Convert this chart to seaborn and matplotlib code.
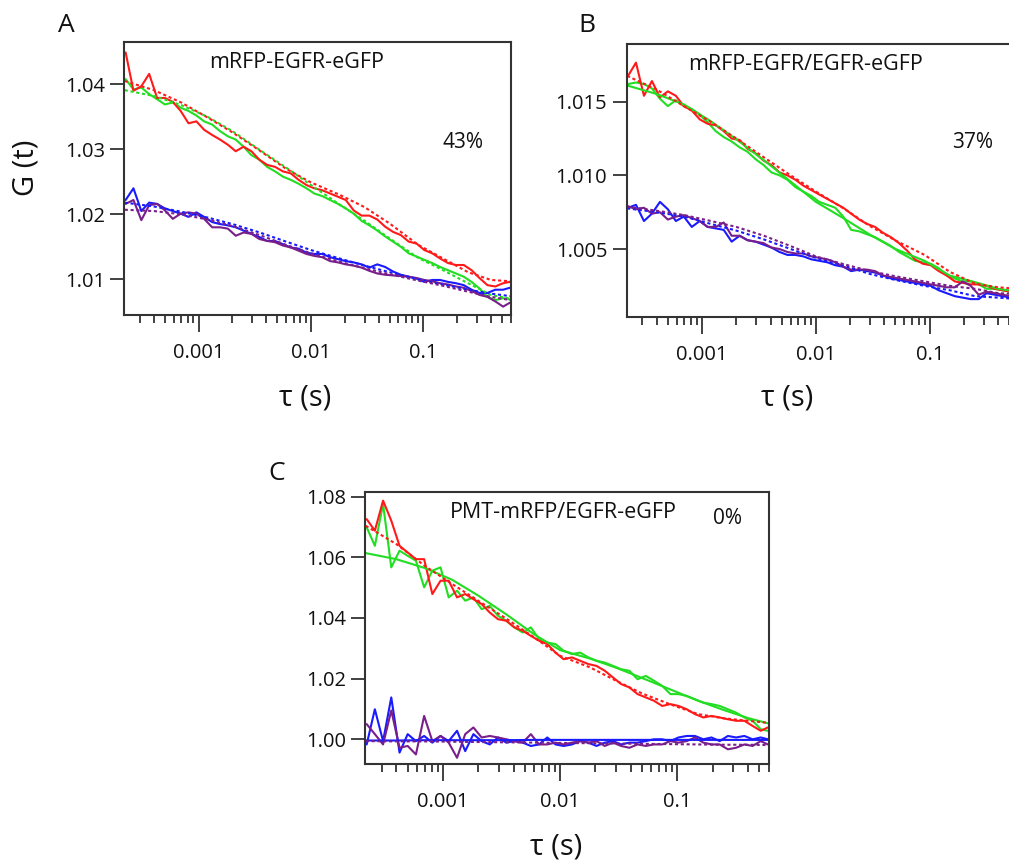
import matplotlib
matplotlib.use("Agg")
import matplotlib.pyplot as plt
import matplotlib.ticker as mticker
import seaborn as sns

# ---------------- data ----------------
tau = [2.24e-4, 2.63e-4, 3.09e-4, 3.63e-4, 4.27e-4, 5.01e-4, 5.89e-4, 6.92e-4, 8.13e-4, 9.55e-4,
       1.12e-3, 1.32e-3, 1.55e-3, 1.82e-3, 2.14e-3, 2.51e-3, 2.95e-3, 3.47e-3, 4.07e-3, 4.79e-3,
       5.62e-3, 6.61e-3, 7.76e-3, 9.12e-3, 1.07e-2, 1.26e-2, 1.48e-2, 1.74e-2, 2.04e-2, 2.40e-2,
       2.82e-2, 3.31e-2, 3.89e-2, 4.57e-2, 5.37e-2, 6.31e-2, 7.41e-2, 8.71e-2, 0.102, 0.120,
       0.141, 0.166, 0.195, 0.229, 0.269, 0.316, 0.372, 0.437, 0.513, 0.589]
tau_fit = [2.2e-4, 4e-4, 7e-4, 1.2e-3, 2e-3, 3.5e-3, 6e-3, 1e-2, 1.8e-2, 3e-2,
           5e-2, 9e-2, 0.15, 0.25, 0.4, 0.6]

# Panel A: mRFP-EGFR-eGFP
red_A = [1.0449, 1.0390, 1.0397, 1.0416, 1.0379, 1.0379, 1.0373, 1.0359, 1.0340, 1.0343,
         1.0330, 1.0322, 1.0315, 1.0307, 1.0297, 1.0304, 1.0297, 1.0284, 1.0276, 1.0273,
         1.0266, 1.0263, 1.0253, 1.0245, 1.0240, 1.0237, 1.0232, 1.0227, 1.0222, 1.0206,
         1.0198, 1.0198, 1.0192, 1.0181, 1.0173, 1.0168, 1.0158, 1.0155, 1.0145, 1.0140,
         1.0132, 1.0125, 1.0122, 1.0122, 1.0114, 1.0102, 1.0091, 1.0089, 1.0094, 1.0096]
green_A = [1.0408, 1.0392, 1.0395, 1.0385, 1.0377, 1.0369, 1.0372, 1.0364, 1.0359, 1.0352,
           1.0343, 1.0338, 1.0328, 1.0320, 1.0315, 1.0304, 1.0291, 1.0284, 1.0273, 1.0266,
           1.0258, 1.0253, 1.0247, 1.0240, 1.0232, 1.0228, 1.0222, 1.0216, 1.0209, 1.0201,
           1.0190, 1.0183, 1.0175, 1.0166, 1.0158, 1.0150, 1.0140, 1.0135, 1.0130, 1.0125,
           1.0119, 1.0114, 1.0109, 1.0104, 1.0096, 1.0086, 1.0073, 1.0068, 1.0071, 1.0069]
blue_A = [1.0222, 1.0240, 1.0205, 1.0218, 1.0216, 1.0209, 1.0205, 1.0201, 1.0196, 1.0203,
          1.0196, 1.0188, 1.0185, 1.0183, 1.0180, 1.0175, 1.0170, 1.0165, 1.0159, 1.0159,
          1.0154, 1.0149, 1.0147, 1.0141, 1.0139, 1.0139, 1.0134, 1.0131, 1.0128, 1.0126,
          1.0123, 1.0118, 1.0123, 1.0119, 1.0112, 1.0107, 1.0104, 1.0101, 1.0096, 1.0099,
          1.0099, 1.0096, 1.0094, 1.0091, 1.0084, 1.0079, 1.0079, 1.0084, 1.0084, 1.0087]
purple_A = [1.0216, 1.0222, 1.0191, 1.0214, 1.0216, 1.0206, 1.0193, 1.0201, 1.0203, 1.0201,
            1.0193, 1.0180, 1.0180, 1.0178, 1.0167, 1.0172, 1.0170, 1.0162, 1.0159, 1.0157,
            1.0152, 1.0149, 1.0144, 1.0139, 1.0136, 1.0134, 1.0128, 1.0126, 1.0123, 1.0121,
            1.0118, 1.0113, 1.0109, 1.0107, 1.0106, 1.0105, 1.0104, 1.0102, 1.0099, 1.0097,
            1.0094, 1.0092, 1.0089, 1.0087, 1.0082, 1.0076, 1.0073, 1.0066, 1.0058, 1.0064]
red_fit_A = [1.0405, 1.0391, 1.0372, 1.0349, 1.0326, 1.0298, 1.0270, 1.0249, 1.0230, 1.0211,
             1.0186, 1.0153, 1.0132, 1.0111, 1.0099, 1.0097]
green_fit_A = [1.0391, 1.0382, 1.0368, 1.0350, 1.0328, 1.0299, 1.0272, 1.0245, 1.0215, 1.0190,
               1.0163, 1.0133, 1.0114, 1.0094, 1.0076, 1.0070]
blue_fit_A = [1.0218, 1.0212, 1.0204, 1.0195, 1.0185, 1.0172, 1.0158, 1.0145, 1.0132, 1.0121,
              1.0111, 1.0100, 1.0092, 1.0084, 1.0078, 1.0074]
purple_fit_A = [1.0207, 1.0205, 1.0200, 1.0192, 1.0182, 1.0168, 1.0153, 1.0140, 1.0127, 1.0117,
                1.0108, 1.0098, 1.0090, 1.0081, 1.0073, 1.0068]

# Panel B: mRFP-EGFR/EGFR-eGFP
red_B = [1.01675, 1.01765, 1.0154, 1.0164, 1.0153, 1.0157, 1.0154, 1.0147, 1.0144, 1.0138,
         1.0135, 1.0134, 1.0130, 1.0125, 1.0124, 1.0118, 1.0115, 1.0110, 1.0107, 1.0102,
         1.0100, 1.0097, 1.0093, 1.0090, 1.0087, 1.0084, 1.0081, 1.0078, 1.0074, 1.0070,
         1.0067, 1.0065, 1.0061, 1.0058, 1.0054, 1.0049, 1.0043, 1.0040, 1.0039, 1.0035,
         1.0032, 1.0028, 1.0027, 1.0026, 1.0026, 1.0025, 1.0023, 1.0022, 1.0021, 1.0021]
green_B = [1.0162, 1.0163, 1.0162, 1.0159, 1.0152, 1.0147, 1.0151, 1.0147, 1.0145, 1.0141,
           1.0136, 1.0130, 1.0126, 1.0123, 1.0119, 1.0116, 1.0111, 1.0107, 1.0102, 1.0100,
           1.0097, 1.0092, 1.0089, 1.0086, 1.0082, 1.0080, 1.0078, 1.0072, 1.0063, 1.0062,
           1.0060, 1.0058, 1.0055, 1.0052, 1.0048, 1.0045, 1.0042, 1.0041, 1.0040, 1.0037,
           1.0032, 1.0030, 1.0028, 1.0028, 1.0026, 1.0023, 1.0023, 1.0022, 1.0021, 1.0021]
blue_B = [1.0078, 1.0080, 1.0069, 1.0074, 1.0082, 1.0077, 1.0069, 1.0072, 1.0065, 1.0069,
          1.0065, 1.0064, 1.0063, 1.0055, 1.0059, 1.0056, 1.0055, 1.0053, 1.0051, 1.0048,
          1.0046, 1.0046, 1.0045, 1.0043, 1.0042, 1.0041, 1.0039, 1.0038, 1.0035, 1.0036,
          1.0035, 1.0034, 1.0032, 1.0030, 1.0029, 1.0028, 1.0027, 1.0026, 1.0025, 1.0022,
          1.0020, 1.0018, 1.0017, 1.0016, 1.0016, 1.0020, 1.0019, 1.0018, 1.0017, 1.0017]
purple_B = [1.0079, 1.0077, 1.0078, 1.0074, 1.0075, 1.0070, 1.0072, 1.0073, 1.0071, 1.0069,
            1.0065, 1.0065, 1.0068, 1.0059, 1.0059, 1.0056, 1.0055, 1.0054, 1.0051, 1.0050,
            1.0048, 1.0047, 1.0047, 1.0045, 1.0044, 1.0043, 1.0041, 1.0038, 1.0036, 1.0036,
            1.0036, 1.0035, 1.0032, 1.0031, 1.0030, 1.0029, 1.0028, 1.0027, 1.0026, 1.0025,
            1.0024, 1.0024, 1.0028, 1.0025, 1.0019, 1.0021, 1.0020, 1.0019, 1.0018, 1.0018]
red_fit_B = [1.01675, 1.01582, 1.01468, 1.01362, 1.01250, 1.01122, 1.01000, 1.00890, 1.00770,
             1.00655, 1.00558, 1.00460, 1.00345, 1.00265, 1.00240, 1.00230]
green_fit_B = [1.01610, 1.01552, 1.01480, 1.01366, 1.01245, 1.01102, 1.00958, 1.00820, 1.00703,
               1.00596, 1.00500, 1.00420, 1.00320, 1.00275, 1.00230, 1.00210]
blue_fit_B = [1.00776, 1.00750, 1.00720, 1.00670, 1.00625, 1.00565, 1.00500, 1.00440, 1.00385,
              1.00330, 1.00290, 1.00250, 1.00220, 1.00180, 1.00170, 1.00160]
purple_fit_B = [1.00788, 1.00760, 1.00730, 1.00690, 1.00650, 1.00590, 1.00520, 1.00450, 1.00395,
                1.00350, 1.00315, 1.00280, 1.00250, 1.00230, 1.00200, 1.00195]

# Panel C: PMT-mRFP/EGFR-eGFP
red_C = [1.0726, 1.0688, 1.0787, 1.0721, 1.0638, 1.0616, 1.0594, 1.0594, 1.0479, 1.0523,
         1.0523, 1.0468, 1.0479, 1.0462, 1.0446, 1.0418, 1.0396, 1.0391, 1.0369, 1.0358,
         1.0341, 1.0325, 1.0314, 1.0286, 1.0264, 1.0270, 1.0259, 1.0248, 1.0242, 1.0226,
         1.0204, 1.0182, 1.0171, 1.0149, 1.0138, 1.0127, 1.0110, 1.0116, 1.0110, 1.0099,
         1.0083, 1.0072, 1.0077, 1.0072, 1.0066, 1.0061, 1.0061, 1.0044, 1.0028, 1.0039]
green_C = [1.0699, 1.0638, 1.0776, 1.0567, 1.0622, 1.0605, 1.0589, 1.0501, 1.0556, 1.0567,
           1.0468, 1.0490, 1.0457, 1.0468, 1.0429, 1.0440, 1.0407, 1.0391, 1.0369, 1.0352,
           1.0369, 1.0330, 1.0319, 1.0314, 1.0292, 1.0281, 1.0286, 1.0270, 1.0259, 1.0253,
           1.0242, 1.0231, 1.0226, 1.0198, 1.0209, 1.0193, 1.0176, 1.0149, 1.0149, 1.0143,
           1.0132, 1.0121, 1.0116, 1.0110, 1.0099, 1.0088, 1.0072, 1.0061, 1.0033, 1.0028]
blue_C = [0.9983, 1.0099, 0.9994, 1.0138, 0.9956, 1.0017, 0.9994, 1.0011, 0.9989, 1.0011,
          0.9994, 1.0028, 0.9961, 1.0017, 0.9994, 0.9983, 1.0006, 0.9989, 0.9994, 0.9989,
          0.9978, 0.9983, 1.0006, 0.9983, 0.9978, 0.9983, 0.9994, 0.9989, 0.9978, 0.9989,
          0.9994, 0.9983, 0.9989, 0.9989, 0.9994, 1.0000, 1.0000, 0.9994, 1.0006, 1.0011,
          1.0011, 1.0000, 1.0006, 0.9994, 1.0011, 1.0006, 1.0011, 1.0000, 1.0006, 1.0000]
purple_C = [1.0050, 1.0017, 0.9983, 1.0095, 0.9972, 0.9978, 0.9950, 1.0077, 0.9994, 1.0011,
            0.9989, 0.9939, 1.0017, 1.0039, 1.0006, 1.0011, 1.0006, 1.0000, 0.9994, 0.9989,
            1.0017, 0.9983, 0.9983, 0.9989, 0.9983, 0.9989, 0.9994, 0.9989, 0.9994, 0.9978,
            0.9989, 0.9978, 0.9972, 0.9983, 0.9978, 0.9983, 0.9983, 0.9994, 0.9989, 0.9994,
            1.0006, 0.9989, 0.9983, 0.9983, 0.9967, 0.9972, 0.9983, 0.9978, 0.9994, 0.9983]
red_fit_C = [1.0704, 1.0644, 1.0572, 1.0512, 1.0457, 1.0397, 1.0336, 1.0275, 1.0237, 1.0193,
             1.0151, 1.0113, 1.0083, 1.0069, 1.0061, 1.0054]
green_fit_C = [1.0614, 1.0594, 1.0565, 1.0526, 1.0474, 1.0411, 1.0346, 1.0294, 1.0266, 1.0236,
               1.0202, 1.0162, 1.0127, 1.0096, 1.0070, 1.0052]
blue_fit_C = [0.9996, 0.9996, 0.9997, 0.9997, 0.9997, 0.9997, 0.9998, 0.9998, 0.9998, 0.9998,
              0.9998, 0.9998, 0.9998, 0.9998, 0.9998, 0.9998]
purple_fit_C = [0.9994, 0.9993, 0.9993, 0.9992, 0.9991, 0.9990, 0.9989, 0.9988, 0.9987, 0.9986,
                0.9985, 0.9984, 0.9983, 0.9982, 0.9982, 0.9981]

panel_titles = ["mRFP-EGFR-eGFP", "mRFP-EGFR/EGFR-eGFP", "PMT-mRFP/EGFR-eGFP"]
panel_pct = ["43%", "37%", "0%"]
panel_letters = ["A", "B", "C"]
x_tick_vals = [1e-3, 1e-2, 1e-1]
x_tick_labels = ["0.001", "0.01", "0.1"]
y_ticks_A = [1.01, 1.02, 1.03, 1.04]
y_ticks_B = [1.005, 1.010, 1.015]
y_ticks_C = [1.00, 1.02, 1.04, 1.06, 1.08]

# ---------------- style ----------------
sns.set_theme(style="ticks")
plt.rcParams["font.family"] = ["Open Sans", "DejaVu Sans"]

RED, GREEN, BLUE, PURPLE = "#ff1a1a", "#22dd22", "#1a1aff", "#7a1f8a"
DOT = (0, (1.5, 1.3))
INK = "#111111"
LW = 1.5

W, H = 1009, 860
fig = plt.figure(figsize=(W / 100, H / 100), dpi=100)


def box(left, top, right, bottom):
    return [left / W, 1 - bottom / H, (right - left) / W, (bottom - top) / H]


def ftext(x, y, s, **kw):
    fig.text(x / W, 1 - y / H, s, ha="center", va="center", color=INK, **kw)


def setup(ax, ylim, yticks, yfmt):
    ax.set_xscale("log")
    ax.set_xlim(2.18e-4, 0.603)
    ax.set_ylim(*ylim)
    ax.xaxis.set_major_locator(mticker.FixedLocator(x_tick_vals))
    ax.xaxis.set_major_formatter(mticker.FixedFormatter(x_tick_labels))
    ax.xaxis.set_minor_locator(mticker.LogLocator(base=10, subs=[2, 3, 4, 5, 6, 7, 8, 9]))
    ax.xaxis.set_minor_formatter(mticker.NullFormatter())
    ax.set_yticks(yticks)
    ax.set_yticklabels([yfmt.format(v) for v in yticks])
    ax.tick_params(axis="x", which="major", direction="out", length=12, width=1.3,
                   color="#333333", labelsize=14.5, labelcolor=INK, pad=8)
    ax.tick_params(axis="x", which="minor", direction="out", length=6, width=1.3,
                   color="#333333")
    ax.tick_params(axis="y", which="major", direction="out", length=10, width=1.3,
                   color="#333333", labelsize=14.5, labelcolor=INK, pad=4)
    ax.tick_params(axis="y", which="minor", length=0)
    for sp in ax.spines.values():
        sp.set_visible(True)
        sp.set_color("#333333")
        sp.set_linewidth(1.5)
    ax.set_xlabel("")
    ax.set_ylabel("")


def line(ax, x, y, color, ls="-", lw=LW):
    sns.lineplot(x=x, y=y, ax=ax, color=color, linestyle=ls, linewidth=lw,
                 estimator=None, sort=False, legend=False)


# ---------------- Panel A ----------------
axA = fig.add_axes(box(124.3, 42.3, 511, 315))
setup(axA, (1.00451, 1.04646), y_ticks_A, "{:.2f}")
line(axA, tau, green_A, GREEN)
line(axA, tau, red_A, RED)
line(axA, tau, blue_A, BLUE)
line(axA, tau, purple_A, PURPLE)
line(axA, tau_fit, green_fit_A, GREEN, DOT)
line(axA, tau_fit, red_fit_A, RED, DOT)
line(axA, tau_fit, blue_fit_A, BLUE, DOT)
line(axA, tau_fit, purple_fit_A, PURPLE, DOT)
setup(axA, (1.00451, 1.04646), y_ticks_A, "{:.2f}")

# ---------------- Panel B ----------------
axB = fig.add_axes(box(626.7, 44, 1018.6, 317.3))
setup(axB, (1.000366, 1.018915), y_ticks_B, "{:.3f}")
line(axB, tau, green_B, GREEN)
line(axB, tau, red_B, RED)
line(axB, tau, blue_B, BLUE)
line(axB, tau, purple_B, PURPLE)
line(axB, tau_fit, green_fit_B, GREEN, "-")
line(axB, tau_fit, red_fit_B, RED, DOT)
line(axB, tau_fit, blue_fit_B, BLUE, DOT)
line(axB, tau_fit, purple_fit_B, PURPLE, DOT)
setup(axB, (1.000366, 1.018915), y_ticks_B, "{:.3f}")

# ---------------- Panel C ----------------
axC = fig.add_axes(box(365.3, 491.7, 769, 764))
setup(axC, (0.99185, 1.08165), y_ticks_C, "{:.2f}")
line(axC, tau, green_C, GREEN)
line(axC, tau, red_C, RED)
line(axC, tau, blue_C, BLUE)
line(axC, tau, purple_C, PURPLE)
line(axC, tau_fit, green_fit_C, GREEN, "-")
line(axC, tau_fit, red_fit_C, RED, DOT)
line(axC, tau_fit, blue_fit_C, BLUE, "-")
line(axC, tau_fit, purple_fit_C, PURPLE, DOT)
setup(axC, (0.99185, 1.08165), y_ticks_C, "{:.2f}")

# ---------------- texts ----------------
ftext(66, 25, panel_letters[0], fontsize=19)
ftext(587, 25, panel_letters[1], fontsize=19)
ftext(277, 473, panel_letters[2], fontsize=19)

ftext(297, 63, panel_titles[0], fontsize=15.5)
ftext(806, 64, panel_titles[1], fontsize=15.5)
ftext(563, 512, panel_titles[2], fontsize=15.5)

ftext(463, 143, panel_pct[0], fontsize=15)
ftext(973, 143, panel_pct[1], fontsize=15)
ftext(728, 519, panel_pct[2], fontsize=15)

ftext(26, 168, "G (t)", fontsize=21, rotation=90)
ftext(305, 398, "τ (s)", fontsize=21)
ftext(787, 398, "τ (s)", fontsize=21)
ftext(556, 847, "τ (s)", fontsize=21)

fig.savefig("out.png", dpi=100)
